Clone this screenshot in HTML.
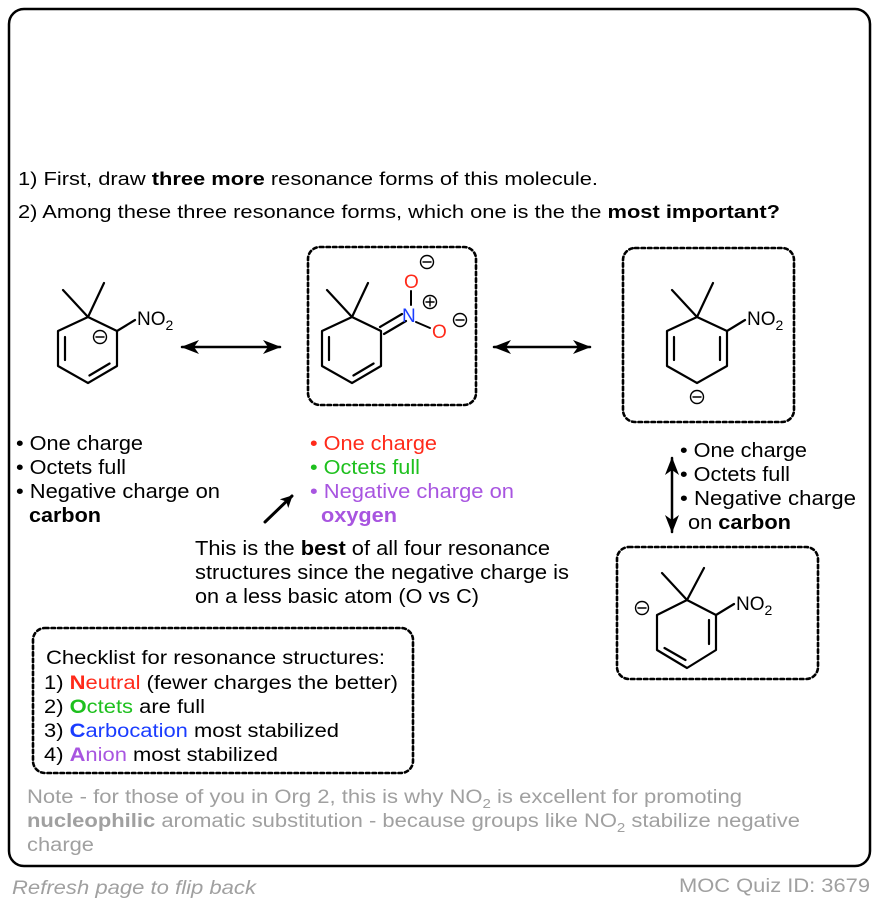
<!DOCTYPE html>
<html><head><meta charset="utf-8"><style>
html,body{margin:0;padding:0;background:#fff;}
svg{display:block;font-family:"Liberation Sans",Arial,sans-serif;}
</style></head><body>
<svg width="878" height="904" viewBox="0 0 878 904" xmlns="http://www.w3.org/2000/svg">
<defs>
<marker id="ah" markerWidth="12" markerHeight="12" refX="11" refY="6" orient="auto" markerUnits="userSpaceOnUse">
<path d="M0,0 L12,6 L0,12 L3,6 Z" fill="#000"/></marker>
<marker id="ahs" markerWidth="18" markerHeight="14" refX="17" refY="7" orient="auto-start-reverse" markerUnits="userSpaceOnUse">
<path d="M0,0 L18,7 L0,14 L5,7 Z" fill="#000"/></marker>
</defs>
<rect x="9" y="9" width="861" height="857" rx="15" fill="#fff" stroke="#000" stroke-width="2.5"/>

<g font-size="18" fill="#000">
<text x="18" y="185" textLength="580" lengthAdjust="spacingAndGlyphs">1) First, draw <tspan font-weight="bold">three more</tspan> resonance forms of this molecule.</text>
<text x="18" y="218" textLength="762" lengthAdjust="spacingAndGlyphs">2) Among these three resonance forms, which one is the the <tspan font-weight="bold">most important?</tspan></text>
</g>

<g stroke="#000" stroke-width="2.2" fill="none" stroke-linecap="round" stroke-linejoin="round">
<!-- Molecule 1 -->
<path d="M63,290 L88,317 L104,283 M88,317 L117,331 L117,366 L88,383 L58,366 L58,331 Z M117,331 L135,320"/>
<path d="M65,337 L65,360 M109.6,363.5 L89.4,375.5"/>
<circle cx="100" cy="337" r="6.5" stroke-width="1.4"/><path d="M96,337 L104,337" stroke-width="1.4"/>
<!-- arrow 1 -->
<path d="M182,347 L280,347" stroke-width="2.5" marker-start="url(#ahs)" marker-end="url(#ahs)"/>

<!-- Molecule 2 -->
<path d="M327,290 L352,317 L368,283 M352,317 L381,331 L381,366 L352,383 L322,366 L322,331 Z"/>
<path d="M329,337 L329,360 M373.6,363.5 L353.4,375.5"/>
<path d="M380,327 L402,314 M384,334 L406,321"/>
<path d="M411,305 L411,291 M416,322 L430,328" stroke-width="2"/>
<circle cx="427" cy="262" r="6.5" stroke-width="1.4"/><path d="M423,262 L431,262" stroke-width="1.4"/>
<circle cx="430" cy="302" r="6.5" stroke-width="1.4"/><path d="M426,302 L434,302 M430,298 L430,306" stroke-width="1.4"/>
<circle cx="460" cy="320" r="6.5" stroke-width="1.4"/><path d="M456,320 L464,320" stroke-width="1.4"/>
<rect x="308" y="247" width="168" height="158" rx="12" stroke-width="2.6" stroke-dasharray="3.5,3"/>
<!-- arrow 2 -->
<path d="M494,347 L590,347" stroke-width="2.5" marker-start="url(#ahs)" marker-end="url(#ahs)"/>

<!-- Molecule 3 -->
<path d="M672,290 L697,317 L713,283 M697,317 L727,331 L727,366 L697,383 L667,366 L667,331 Z M727,331 L745,320"/>
<path d="M674,337 L674,360 M720,337 L720,360"/>
<circle cx="697" cy="397" r="6.5" stroke-width="1.4"/><path d="M693,397 L701,397" stroke-width="1.4"/>
<rect x="623" y="248" width="171" height="174" rx="12" stroke-width="2.6" stroke-dasharray="3.5,3"/>

<!-- vertical arrow -->
<path d="M672,458 L672,532" stroke-width="2.5" marker-start="url(#ahs)" marker-end="url(#ahs)"/>

<!-- Molecule 4 -->
<path d="M662,573 L687,600 L704,568 M687,600 L716,615 L716,650 L687,668 L657,650 L657,615 L687,600 M716,615 L734,604"/>
<path d="M709,620 L709,644 M685.5,660 L664.5,648"/>
<circle cx="642" cy="608" r="6.5" stroke-width="1.4"/><path d="M638,608 L646,608" stroke-width="1.4"/>
<rect x="617" y="547" width="201" height="132" rx="12" stroke-width="2.6" stroke-dasharray="3.5,3"/>

<!-- checklist box -->
<rect x="33" y="628" width="380" height="145" rx="12" stroke-width="2.6" stroke-dasharray="3.5,3"/>

<!-- diagonal arrow -->
<path d="M265,522 L292,496" stroke-width="3" marker-end="url(#ah)"/>
</g>

<!-- atom labels -->
<g font-size="19">
<text x="137" y="325">NO<tspan font-size="14" dy="5">2</tspan></text>
<text x="747" y="325">NO<tspan font-size="14" dy="5">2</tspan></text>
<text x="736" y="610">NO<tspan font-size="14" dy="5">2</tspan></text>
<text x="402" y="322" fill="#1a3cff">N</text>
<text x="404" y="288" fill="#ff2a1a">O</text>
<text x="432" y="338" fill="#ff2a1a">O</text>
</g>

<!-- bullet texts -->
<g font-size="20">
<text x="16" y="450" textLength="127" lengthAdjust="spacingAndGlyphs">• One charge</text>
<text x="16" y="474" textLength="110" lengthAdjust="spacingAndGlyphs">• Octets full</text>
<text x="16" y="498" textLength="204" lengthAdjust="spacingAndGlyphs">• Negative charge on</text>
<text x="29" y="522" font-weight="bold" textLength="72" lengthAdjust="spacingAndGlyphs">carbon</text>

<text x="310" y="450" fill="#ff2a1a" textLength="127" lengthAdjust="spacingAndGlyphs">• One charge</text>
<text x="310" y="474" fill="#1ec01e" textLength="110" lengthAdjust="spacingAndGlyphs">• Octets full</text>
<text x="310" y="498" fill="#a855e0" textLength="204" lengthAdjust="spacingAndGlyphs">• Negative charge on</text>
<text x="321" y="522" fill="#a855e0" font-weight="bold" textLength="76" lengthAdjust="spacingAndGlyphs">oxygen</text>

<text x="680" y="457" textLength="127" lengthAdjust="spacingAndGlyphs">• One charge</text>
<text x="680" y="481" textLength="110" lengthAdjust="spacingAndGlyphs">• Octets full</text>
<text x="680" y="505" textLength="176" lengthAdjust="spacingAndGlyphs">• Negative charge</text>
<text x="688" y="529" textLength="103" lengthAdjust="spacingAndGlyphs">on <tspan font-weight="bold">carbon</tspan></text>

<text x="195" y="555" textLength="355" lengthAdjust="spacingAndGlyphs">This is the <tspan font-weight="bold">best</tspan> of all four resonance</text>
<text x="195" y="579" textLength="374" lengthAdjust="spacingAndGlyphs">structures since the negative charge is</text>
<text x="195" y="603" textLength="284" lengthAdjust="spacingAndGlyphs">on a less basic atom (O vs C)</text>
</g>

<g font-size="19">
<text x="46" y="664" textLength="339" lengthAdjust="spacingAndGlyphs">Checklist for resonance structures:</text>
<text x="44" y="689" textLength="354" lengthAdjust="spacingAndGlyphs">1) <tspan fill="#ff2a1a" font-weight="bold">N</tspan><tspan fill="#ff2a1a">eutral</tspan> (fewer charges the better)</text>
<text x="44" y="713" textLength="161" lengthAdjust="spacingAndGlyphs">2) <tspan fill="#1ec01e" font-weight="bold">O</tspan><tspan fill="#1ec01e">ctets</tspan> are full</text>
<text x="44" y="737" textLength="295" lengthAdjust="spacingAndGlyphs">3) <tspan fill="#1a3cff" font-weight="bold">C</tspan><tspan fill="#1a3cff">arbocation</tspan> most stabilized</text>
<text x="44" y="761" textLength="234" lengthAdjust="spacingAndGlyphs">4) <tspan fill="#a855e0" font-weight="bold">A</tspan><tspan fill="#a855e0">nion</tspan> most stabilized</text>
</g>

<g font-size="19" fill="#a0a0a0">
<text x="27" y="803" textLength="715" lengthAdjust="spacingAndGlyphs">Note - for those of you in Org 2, this is why NO<tspan font-size="13" dy="5">2</tspan><tspan dy="-5"> is excellent for promoting</tspan></text>
<text x="27" y="827" textLength="773" lengthAdjust="spacingAndGlyphs"><tspan font-weight="bold">nucleophilic</tspan> aromatic substitution - because groups like NO<tspan font-size="13" dy="5">2</tspan><tspan dy="-5"> stabilize negative</tspan></text>
<text x="27" y="851" textLength="67" lengthAdjust="spacingAndGlyphs">charge</text>
<text x="12" y="894" font-style="italic" textLength="244" lengthAdjust="spacingAndGlyphs">Refresh page to flip back</text>
<text x="679" y="892" textLength="191" lengthAdjust="spacingAndGlyphs">MOC Quiz ID: 3679</text>
</g>
</svg>
</body></html>
